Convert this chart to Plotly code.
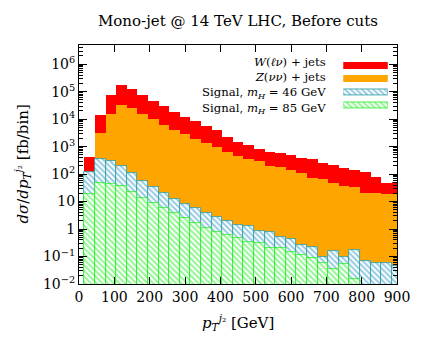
import numpy as np
import plotly.graph_objects as go

# bin centres (GeV), 30 GeV wide bins
pt_bins = [30, 60, 90, 120, 150, 180, 210, 240, 270, 300,
           330, 360, 390, 420, 450, 480, 510, 540, 570, 600,
           630, 660, 690, 720, 750, 780, 810, 840, 870, 900]

# backgrounds [fb/bin]
z_jets = [90, 3180, 15600, 33100, 25800, 15600, 10000, 6210, 4150, 2850,
          1905, 1310, 935, 647, 452, 351, 297, 200, 175, 140,
          106, 73, 64, 48, 36.6, 32.8, 19.9, 19.9, 18.7, 19.5]
w_jets = [336, 11600, 59000, 139000, 105000, 63500, 36300, 23500, 14250, 9650,
          6700, 4350, 3045, 1563, 1048, 829, 549, 458, 405, 351,
          276, 278, 194, 164, 124, 107, 98, 61, 27.3, 33]

# signals [fb/bin]
sig_46 = [121, 351, 297, 200, 106, 57, 32.8, 19.9, 12.0, 8.1,
          5.66, 3.72, 2.8, 2.0, 1.4, 1.29, 0.845, 0.78, 0.525, 0.45,
          0.273, 0.216, 0.098, 0.156, 0.098, 0.172, 0.0716, 0.0566, 0.0566, 0.044]
sig_85 = [18.3, 46, 43.3, 37.6, 22.7, 13.1, 8.6, 5.66, 3.72, 2.45,
          1.61, 1.11, 0.8, 0.605, 0.46, 0.345, 0.302, 0.2, 0.209, 0.15,
          0.113, 0.086, 0.0566, 0.034, 0.052, 0.0148, 0.005, 0.005, 0.005, 0.005]

legend_names = ["<i>W</i>(<i>ℓν</i>) + jets", "<i>Z</i>(<i>νν</i>) + jets",
                "Signal, <i>m<sub>H</sub></i> = 46 GeV", "Signal, <i>m<sub>H</sub></i> = 85 GeV"]

FONT = "DejaVu Serif"
RED = "#ff0000"
ORANGE = "#ffa500"
CYAN = "#2a95c8"
CYAN_EDGE = "#2a9aa0"
GREEN = "#22ee22"

total = (np.array(w_jets) + np.array(z_jets)).tolist()

hatch_cyan = dict(color="white", line=dict(color=CYAN_EDGE, width=0.8),
                  pattern=dict(shape="\\", fillmode="overlay", fgcolor=CYAN, size=4, solidity=0.5))
hatch_green = dict(color="white", line=dict(color=GREEN, width=0.8),
                   pattern=dict(shape="\\", fillmode="overlay", fgcolor=GREEN, size=4, solidity=0.5))

fig = go.Figure()

# main histograms, overlaid (cumulative background first)
fig.add_trace(go.Bar(x=pt_bins, y=total, width=30, marker=dict(color=RED, line_width=0),
                     showlegend=False))
fig.add_trace(go.Bar(x=pt_bins, y=z_jets, width=30, marker=dict(color=ORANGE, line_width=0),
                     showlegend=False))
fig.add_trace(go.Bar(x=pt_bins, y=sig_46, width=30, marker=hatch_cyan, showlegend=False))
fig.add_trace(go.Bar(x=pt_bins, y=sig_85, width=30, marker=hatch_green, showlegend=False))

# legend keys drawn on a small helper axis, labels in one right-aligned block
key_styles = [dict(color=RED, line_width=0), dict(color=ORANGE, line_width=0),
              hatch_cyan, hatch_green]
for i, st in enumerate(key_styles):
    fig.add_trace(go.Bar(x=[1], y=[i], orientation="h", marker=st, width=0.5,
                         xaxis="x2", yaxis="y2", showlegend=False, hoverinfo="skip"))
fig.add_annotation(x=0.783, xref="paper", y=1.5, yref="y2", text="<br>".join(legend_names),
                   showarrow=False, align="right", xanchor="right", yanchor="middle",
                   font=dict(family=FONT, size=11.7, color="black"))

# axis titles
fig.add_annotation(x=0.5, xref="paper", y=-0.159, yref="paper", showarrow=False,
                   text="<i>p</i><sub><i>T</i></sub><sup><i>j</i>₂</sup> [GeV]",
                   xanchor="center", yanchor="middle", font=dict(family=FONT, size=15))
fig.add_annotation(x=-0.179, xref="paper", y=0.5, yref="paper", showarrow=False, textangle=-90,
                   text="<i>dσ</i>/<i>dp</i><sub><i>T</i></sub><sup><i>j</i>₂</sup> [fb/bin]",
                   xanchor="center", yanchor="middle", font=dict(family=FONT, size=15))

decades = list(range(-2, 7))
ytext = ["10<sup>−2</sup>", "10<sup>−1</sup>", "1", "10", "10<sup>2</sup>",
         "10<sup>3</sup>", "10<sup>4</sup>", "10<sup>5</sup>", "10<sup>6</sup>"]
minor_vals = [m * 10.0 ** d for d in range(-2, 7) for m in range(2, 10)]

# page body adds an 8px offset, so the figure is sized/margined to compensate
fig.update_layout(
    width=416, height=331,
    margin=dict(l=71, r=27, t=37, b=55),
    barmode="overlay", bargap=0,
    plot_bgcolor="white", paper_bgcolor="white",
    font=dict(family=FONT, size=14, color="black"),
    title=dict(text="Mono-jet @ 14 TeV LHC, Before cuts", x=0.5, xref="paper",
               y=1 - 13 / 331, yanchor="middle", font=dict(family=FONT, size=15)),
    xaxis=dict(range=[0, 900], tickvals=[0, 100, 200, 300, 400, 500, 600, 700, 800, 900],
               ticks="inside", ticklen=7, tickcolor="black", showline=True, linecolor="black",
               linewidth=1, mirror="allticks", showgrid=False, zeroline=False, automargin=False),
    yaxis=dict(type="log", range=[-2, 6.70], tickvals=[10.0 ** d for d in decades], ticktext=ytext,
               ticks="inside", ticklen=8, tickcolor="black", showline=True, linecolor="black",
               linewidth=1, mirror="allticks", showgrid=False, zeroline=False, automargin=False,
               minor=dict(tickvals=minor_vals, ticks="inside", ticklen=4, tickcolor="black",
                          showgrid=False)),
    xaxis2=dict(domain=[0.831, 0.971], anchor="y2", range=[0, 1], visible=False, fixedrange=True),
    yaxis2=dict(domain=[0.72, 0.94], anchor="x2", range=[3.5, -0.5], visible=False, fixedrange=True),
)

fig.write_html("out.html")
